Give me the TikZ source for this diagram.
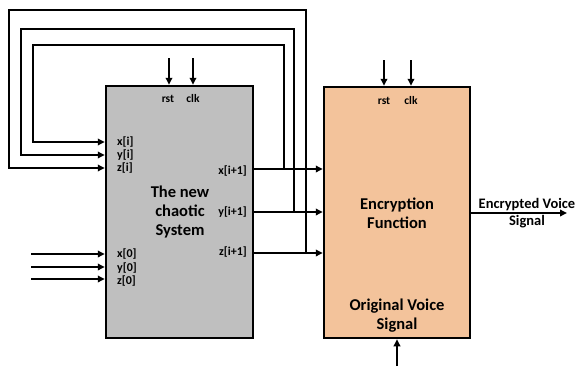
\documentclass[tikz,border=0pt]{standalone}
\usepackage{fontspec}
\setmainfont{Carlito}
\usetikzlibrary{arrows.meta}
\definecolor{sysgray}{HTML}{BFBFBF}
\definecolor{encorange}{HTML}{F3C39B}
\begin{document}
\begin{tikzpicture}[x=1pt,y=-1pt,
  wire/.style={line width=2pt},
  arr/.style={wire,-{Triangle[length=7pt,width=6.5pt]}},
  box/.style={draw,line width=2.5pt,inner sep=0pt},
  port/.style={font=\bfseries\fontsize{12}{14}\selectfont,inner sep=0pt},
  clock/.style={font=\bfseries\fontsize{11.5}{14}\selectfont,inner sep=0pt},
  big/.style={font=\bfseries\fontsize{16.5}{19}\selectfont,align=center,inner sep=0pt},
  mid/.style={font=\bfseries\fontsize{14.5}{17}\selectfont,align=center,inner sep=0pt}]
\useasboundingbox (0,0) rectangle (579,367);
% blocks
\node[box,fill=sysgray,minimum width=147pt,minimum height=252pt] (sys) at (179.5,212) {};
\node[box,fill=encorange,minimum width=146pt,minimum height=251pt] (enc) at (397,212.5) {};
% text inside
\node[big] (systxt) at (180,212) {The new\\chaotic\\System};
\node[big] (enctxt) at (397,213.5) {Encryption\\Function};
\node[big] (ovs) at (397,316) {Original Voice\\Signal};
\node[clock] (rst1) at (168,99) {rst};
\node[clock] (clk1) at (193,99) {clk};
\node[clock] (rst2) at (384,101) {rst};
\node[clock] (clk2) at (411,101) {clk};
\node[port,anchor=west] (lxi) at (117,142) {x[i]};
\node[port,anchor=west] (lyi) at (117,155) {y[i]};
\node[port,anchor=west] (lzi) at (117,168) {z[i]};
\node[port,anchor=west] (lx0) at (117,254) {x[0]};
\node[port,anchor=west] (ly0) at (117,268) {y[0]};
\node[port,anchor=west] (lz0) at (117,281) {z[0]};
\node[port,anchor=east] (lxo) at (247,171) {x[i+1]};
\node[port,anchor=east] (lyo) at (247,212) {y[i+1]};
\node[port,anchor=east] (lzo) at (247,252) {z[i+1]};
\node[mid] (outtxt) at (527,213.5) {Encrypted Voice\\Signal};
% coordinates
\coordinate (jx) at (284,169);
\coordinate (jy) at (294,212);
\coordinate (jz) at (306,253);
\coordinate (cx) at (33,45);
\coordinate (cy) at (21,29);
\coordinate (cz) at (9,10);
\coordinate (i0x) at (31,254);
\coordinate (i0y) at (31,267);
\coordinate (i0z) at (31,279);
\coordinate (tr1) at (169,58);
\coordinate (tc1) at (193,58);
\coordinate (tr2) at (384,60);
\coordinate (tc2) at (411,60);
\coordinate (ov) at (397,366);
\coordinate (out) at (567,213);
% outputs
\draw[arr] (sys.east |- jx) -- (enc.west |- jx);
\draw[arr] (sys.east |- jy) -- (enc.west |- jy);
\draw[arr] (sys.east |- jz) -- (enc.west |- jz);
% feedback loops
\draw[arr,line join=miter] (jx) |- (cx) |- (sys.west |- 0,142);
\draw[arr,line join=miter] (jy) |- (cy) |- (sys.west |- 0,155);
\draw[arr,line join=miter] (jz) |- (cz) |- (sys.west |- 0,168);
% initial values
\draw[arr] (i0x) -- (sys.west |- i0x);
\draw[arr] (i0y) -- (sys.west |- i0y);
\draw[arr] (i0z) -- (sys.west |- i0z);
% rst clk
\draw[arr] (tr1) -- (sys.north -| tr1);
\draw[arr] (tc1) -- (sys.north -| tc1);
\draw[arr] (tr2) -- (enc.north -| tr2);
\draw[arr] (tc2) -- (enc.north -| tc2);
% original voice and output
\draw[arr] (ov) -- (enc.south -| ov);
\draw[arr] (enc.east |- out) -- (out);
\end{tikzpicture}
\end{document}
